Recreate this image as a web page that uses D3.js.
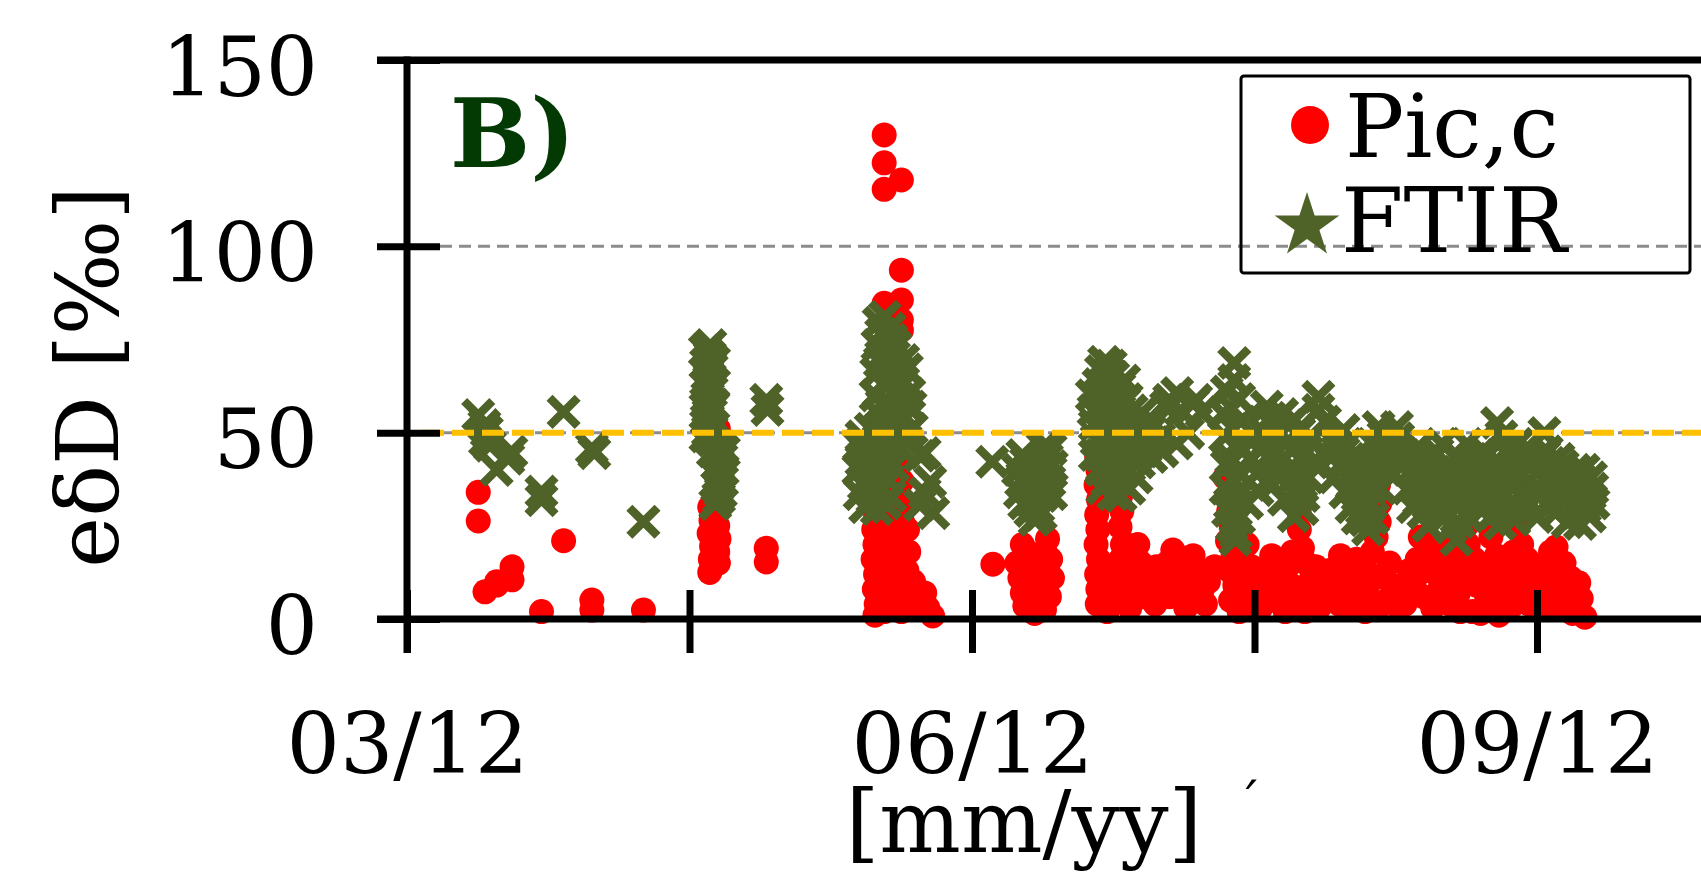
<!DOCTYPE html>
<html>
<head>
<meta charset="utf-8">
<script src="https://cdn.jsdelivr.net/npm/d3@7"></script>
<style>
body{margin:0;background:#fff;overflow:hidden;}
</style>
</head>
<body>
<div id="chart-area"></div>
<script>
// DATA : days after 01/03/2012, value in permil

let tickDays=[0,46,92,138,184];
let labelMonths=[3,6,9];
let yTicks=[0,50,100,150];
let refLines=[50,100];
let threshold=50;

let picPoints=[
	// march
	[11.6,34],[11.6,26.3],[12.7,7.3],[14.6,9.1],[14.6,10],[17.1,14],[17.1,10.5],[21.9,2],[25.5,21],[30.1,5.1],[30.1,2.4],[38.5,2.4],
	// april
	[49.3,30],[49.5,26.5],[49.2,23],[49.6,19.5],[49.4,16],[49.3,12.5],[50.6,25],[50.8,21.5],[50.6,18],[50.7,15],[49.7,14],[48.9,51.5],[50,53],[50.7,51],
	[58.5,19],[58.5,15.3],
	// may
	[76,40],[76.2,36],[75.9,32],[76.3,28],[76,24],[76.2,20],[75.9,16],[76.3,12],[76.1,8],[76.4,4],[76.2,1],[76.5,44],[77.3,38],[77.5,33],[77.2,27],[77.7,22],[77.4,17],[77.8,11],[77.5,6],[77.7,2],
	[78.9,35],[79.2,29],[78.8,24],[79.3,19],[79,14],[79.4,9],[79.1,4],[79.8,12],[80.4,42],[80.6,37],[80.3,31],[80.7,26],[80.4,21],[80.6,16],[80.3,11],[80.8,6],[80.5,2],
	[81.5,24],[81.7,18],[81.4,13],[81.8,8],[82.3,3.5],[82.5,10],
	[77.7,129.9],[77.7,122.4],[80.5,117.8],[77.7,115.3],[80.5,93.6],[77.7,84.7],[80.5,85.6],[80.5,80.2],[80.5,77.5],
	[84.3,7],[84.8,3],[85.6,0.8],
	// june
	[95.4,14.7],[99.3,15],[99.8,11],[100.2,7],[100.6,3.5],[101.3,9],[101.8,13],[102.5,6],[103,10],[103.5,14],[103.9,18],[104.3,21.5],[104.8,16],[105.1,11],[104.6,6],[103.8,2.5],[102.2,1.5],[101,18],[100.2,20],
	[112.3,43.7],[112.5,40],[112.2,36],[112.6,32],[112.3,28],[112.5,24],[112.2,20],[112.6,16],[112.3,12],[112.5,8],[112.4,4],[113.5,10],[114,2],[114.3,6],[114.8,14],[115,40],[115.2,36.5],[115.5,9],
	[116.2,33],[116.4,29],[116.1,24.7],[116.5,20],[116.2,16],[116.6,12],[116.3,7],[117.2,19.9],[117.7,3],[118.3,11],[118.6,17],
	[119,20],[119.5,15],[120,6],[120.5,11],[121.2,8.5],[121.8,4],[122,14],[123,10],[123.8,15],[124.2,6],[124.7,18.5],[125.5,13],[126,16.5],[126.5,9],[126.8,3],[127.5,6],[128,17],[128.5,12.3],[129.5,8],[130,4],[130.5,10],[131.5,14],
	// july
	[133.2,38],[133.5,33],[133.8,29],[134.2,25],[133.6,21],[134.5,17],[133.9,13],[134.8,9],[134.1,5],[135.5,2],[136,7],[136.5,11],[135.6,15],[136.8,20],[136.9,3],[137.5,14],[138.2,8],[139,3],
	[139.5,13],[140.2,9],[140.8,17],[141,5],[141.8,11],[142.2,15],[142.6,7],[143,2],[143.4,14],[144,9],[144.2,18],[144.8,5],[145.3,28.4],[145.3,24],[145.8,19],[146.2,2],[146.4,15],[147,10],[147.8,6],[148,14],[148.5,3],[149,12],
	[150.2,13],[151,8],[151.8,4],[152,17],[152.5,12],[153.2,7],[153.8,11],[154,3],[154.6,16],[155,9],[155.8,14],[156,2],[156.5,6],[157.2,18],[157.6,11],[157.8,22],[158,2.5],[158.3,26],[158.4,31],[158.2,36],[158.5,40.8],
	[159,12],[159.5,5],[160,15],[160.5,9],[161,7],[161.5,3],[162.5,4],[163.2,13],
	// august
	[164,10],[164.5,16],[165,22],[165.5,6],[166,18],[166.2,13],[167,3],[167.5,19],[167.8,6],[168.3,9],[168.8,17],[169,14],[169.8,4],[170,19],[170.5,11],[171.2,7],[171.5,2],[172,17],[172.5,25],[172.8,20],[173,12],[173.5,2],[173.8,16],
	[174.2,9],[174.8,1.5],[175,14],[175.8,5],[176,8],[176.5,22],[177,11],[177.4,17],[177.8,1],[178.2,12],[178.5,7],[179.2,16],[179.5,9],[179.9,3.5],[180.2,18],[180.6,12],[181,5],[181.3,26],[181.5,20],[182,8],[182.4,16],[182.7,4],[183.3,14],[183.8,9],
	[184,6],[184.6,14],[185,10],[185.4,6],[185.8,2.5],[186.2,18],[186.5,13],[187.1,19.3],[187.6,11],[188,7],[188.4,15],[188.8,3],[189,6.5],[189.5,11],[189.8,1.5],[190.2,4],[190.8,9.7],[191.2,5.5],[191.8,0.5]
];

let ftirPoints=[
	// march
	[11.6,54.7],[12.6,52],[13.0,50.3],[12.7,48.0],[13.5,46.5],[17.0,44.9],[16.5,43],[14.6,40.0],[21.9,34.2],[21.9,31.9],[25.5,55.6],[30.1,45.8],[30.5,44.5],[38.5,26.1],
	// april
	[49.4,73.5],[48.5,72],[49.3,70.5],[48.7,68.5],[49.6,67],[48.9,65.5],[49.2,64],[48.6,62.5],[49.5,61],[49,59.5],[48.7,58],[49.6,56.5],[49.1,55],[48.8,53.5],[49.5,52],[49,50.5],[48.6,49],[49.7,48],
	[50.8,46],[50.3,44.5],[51.2,43],[50.6,41.5],[51.4,40],[50.7,38.5],[51.3,37],[50.5,35.5],[51.1,34],[50.8,32.5],[49.9,57.5],[49.9,63],[50,69],[49.8,45],[51.6,45],[50.2,30.8],
	[58.5,58.8],[58.7,56.1],
	// may
	[77.8,81.1],[76.8,79.5],[78.6,78],[77.2,76.5],[78.9,75],[76.6,73.5],[78.1,72],[79.3,70.5],[77,69],[78.5,67.5],[80.8,69.5],[81.4,67],[76.4,66],[79,64.5],[77.5,63],[80.2,62],[81.8,60.5],[76.3,60],
	[78.3,58.5],[82,57],[79.7,56],[76.8,55],[81.2,54],[78.9,52.5],[77.1,51.5],[82.2,51],[80,50],[74,49],[76.8,48],[73.6,46.5],[78,45.5],[75.2,44],[74,42.5],[77.5,41.5],[73.5,40],[76.2,39],
	[78.3,37.5],[74.4,36],[77.2,35],[73.7,33.5],[75.8,32.5],[77.9,31],[74.6,30],[76.5,29.5],[80.3,46],[84.3,44.5],[85.2,36.8],[83.5,30.6],[85.7,28.4],[84.3,33.8],[83.5,43.8],
	[79.6,73],[80.2,65],[81,58],[80.6,54],[79.4,60],[75.5,51],[74.5,45],[75,38],[76,34.5],[78.7,33],[79.2,41],[78,48.5],[77.3,57.5],
	// june
	[95.3,42.2],[99.5,40],[100,37],[99.8,34],[100.5,31],[101.5,29],[102.2,26.6],[102.8,30],[103.3,33],[103,36],[103.8,40],[104.2,43],[103.5,46],[104.8,45.5],[105,41],[104.6,37],[104.9,33.5],[101,38.5],[102,35],[100.8,42],[101.8,31.5],
	[100.2,44],[101.5,35],[102.5,39],[103.2,28],
	[111.5,60],[111.8,56],[112,52],[112.3,48],[112.6,63],[113,66.5],[113.5,69],[114.2,66],[114,61],[113.7,57],[114.3,53],[113.5,49],[114.8,45],[115.5,41],[116,37.5],[116.7,40],[117.3,44],[116.5,48],
	[117.8,49],[118.5,46],[119.2,42],[118.8,38],[117.6,35],[116.2,33],[118.4,52],[119.5,55],[115.2,58],[115.8,54],[116,62],[112.8,44],[120.3,46],[121,50.5],[120.5,53],[121.6,47.5],
	[112,44],[113,40],[114,37],[113.2,35],[115,33.5],[117,52],[118,56],[117.2,59],[116.8,64],[115,65],[114.6,68],[119,49],[119.8,45],[121.2,43.5],
	[120.2,52],[121.6,52.6],[123.6,56.9],[124.1,58.8],[124.5,57.4],[125.4,60.6],[126,56],[127.2,49.9],[125.3,47.1],[128,57.8],[128.5,58.8],[129.4,55.5],[123,45],[122.5,48.5],
	// july
	[134.7,68.7],[134.7,64.1],[133.5,61],[135.5,59],[134,57],[133,55],[135.8,53],[134.5,51],[133.2,49],[135.2,47],[136,45],[134.2,43],[133.5,41],[135.6,39],[134.8,37],[133.3,35],[135.3,33],[134,31],
	[133.7,29],[135.5,27],[134.3,25],[135,23],[134.9,21.2],[137.5,43],[138.4,39],[138.5,34.6],[139,45.3],[136.8,31],
	[140,57],[140.6,54],[141.5,51],[140.2,48],[141,45],[142,42],[141.6,38.5],[142.5,55],[143.5,52],[144.5,53.5],[145.3,50],[144.6,46],[145.5,43],[144.8,40],[145.6,36.5],[145,33],[145.8,29.5],[144.4,27.6],
	[146.5,45],[147.2,48],[148.4,59.6],[148.4,56.1],[143,47],[146.8,38],
	[139.5,50],[141,36],[142.8,32],[143.8,37],[146,33],[147.5,42],[149.5,53],[150,44],[151,38],[152.8,34],[153.8,30],[154.8,27],[155.8,40],[159.5,44],[160.5,38.5],[158.6,35],[161.8,45],
	[150.5,48],[151.5,45],[152.5,50.7],[153,47],[153.5,43],[154.2,40],[154,36.5],[155,33],[155.5,29.5],[156,26.5],[156.5,24],[157.3,27],[157,31],[156.8,35],[157.5,39],[157.8,43],[157.2,47],[158.2,51.5],
	[159,49],[160,46],[161.2,51.5],[160.6,43],[161.4,48.5],[159.4,40],[152,41.5],
	// august
	[164.6,46],[165,42.5],[164.2,39],[165.2,35.5],[164.8,32],[165.5,28.5],[166.3,25],[167,43],[167.5,39.5],[168.5,47],[168,36],[168.8,32],[169.4,28],[170,24.5],[170.9,21.2],[171.3,26],[171,30.5],
	[171.8,35],[172.4,39],[172.6,47],[173.4,43],[174,37],[173.7,31.5],[172.8,27.5],[166.6,31],
	[162.5,44],[163.5,40],[163,35],[163.8,30],[166,37],[167.8,44.5],[169,41],[170.2,35],[170.5,39],[171.5,43],[173,33],[174.5,44],[175,29],[175.2,40],[177,37],[178,25.5],[180,43],[180.8,47],[182.5,37],[183.2,43],
	[176,44],[176.4,40],[175.8,36],[176.8,32],[177.2,28.5],[177.5,52.6],[178.2,49],[178.8,45],[178.4,41],[179.3,37.5],[179,33.5],[179.6,29.5],[180.3,26.6],[181,30],[181.5,34],[181.2,38],[182,42],
	[182.4,46],[183,31],[183.6,35],[184,27.4],[184.5,40],[185.2,49.9],[185.6,45],[186.1,41.9],
	[184.5,34],[185.5,31],[186.5,35],[187,28.5],[187.8,32],[188.5,36.5],[189,26],[189.8,30],[190.2,40],[190.5,34],[191.2,37],[191.6,40],[192.2,32],[192.6,27.5],[193,35],[191,25.5],
	[186.8,38],[187.5,43],[188.2,41],[189.2,34],[190,37],[191.8,30],[192.8,38],[193.2,31]
];

let font='"DejaVu Serif", serif';
let picColor='#ff0000';
let ftirColor='#4f6228';

let margin={top:60,left:407};
let width=1130;
let height=559;
let plotRight=1701-margin.left;

let base=Date.UTC(2012,2,1);
function toDate(day){
	return new Date(base+day*864e5);
}

let svg=d3.select("#chart-area").append('svg')
	.attr('width',1701)
	.attr('height',873);

let g=svg.append('g')
	.attr("transform", "translate(" + margin.left + ", " + margin.top + ")");

//---------SCALES--------------
let x=d3.scaleUtc()
	.domain([toDate(0),toDate(184)])
	.range([0,width]);

let y=d3.scaleLinear()
	.domain([0,150])
	.range([height,0]);

//------REFERENCE LINES-------
g.selectAll('.ref-line').data(refLines).enter().append('line')
	.attr('class','ref-line')
	.attr('x1',33).attr('x2',plotRight)
	.attr('y1',d=>y(d)).attr('y2',d=>y(d))
	.attr('stroke','#8c8c8c')
	.attr('stroke-width',3)
	.attr('stroke-dasharray','12,7');

//--------POINTS---------------
g.selectAll('circle.pic').data(picPoints).enter().append('circle')
	.attr('class','pic')
	.attr('cx',d=>x(toDate(d[0])))
	.attr('cy',d=>y(d[1]))
	.attr('r',12.5)
	.attr('fill',picColor);

let cross=d3.symbol().type(d3.symbolTimes).size(520);
g.selectAll('path.ftir').data(ftirPoints).enter().append('path')
	.attr('class','ftir')
	.attr('d',cross)
	.attr('transform',d=>"translate(" + x(toDate(d[0])) + ", " + y(d[1]) + ")")
	.attr('fill','none')
	.attr('stroke',ftirColor)
	.attr('stroke-width',8.5);

g.append('line')
	.attr('x1',15).attr('x2',plotRight)
	.attr('y1',y(threshold)).attr('y2',y(threshold))
	.attr('stroke','#ffc000')
	.attr('stroke-width',6)
	.attr('stroke-dasharray','22,8');

//-------AXES------------------
let yAxis=d3.axisLeft(y)
	.tickValues(yTicks)
	.tickSize(0)
	.tickPadding(89);

let yAxisGroup=g.append('g')
	.attr('class','y-axis')
	.call(yAxis)
	.attr('font-family',font)
	.attr('font-size',82);
yAxisGroup.select('.domain').remove();
yAxisGroup.selectAll('.tick line')
	.attr('x1',-30).attr('x2',33)
	.attr('stroke','#000').attr('stroke-width',7);
yAxisGroup.selectAll('.tick text')
	.attr('fill','#000')
	.attr('dy','0.43em');

let xAxis=d3.axisBottom(x)
	.tickValues(tickDays.map(toDate))
	.tickSize(0)
	.tickFormat(function(d){
		if(d.getUTCDate()===1 && labelMonths.includes(d.getUTCMonth()+1)){
			return d3.utcFormat('%m/%y')(d);
		}
		return '';
	});

let xAxisGroup=g.append('g')
	.attr('class','x-axis')
	.attr("transform", "translate(" + 0 + ", " + height+ ")")
	.call(xAxis)
	.attr('font-family',font)
	.attr('font-size',84);
xAxisGroup.select('.domain').remove();
xAxisGroup.selectAll('.tick line')
	.attr('y1',-29).attr('y2',34)
	.attr('stroke','#000').attr('stroke-width',7);
xAxisGroup.selectAll('.tick text')
	.attr('fill','#000')
	.attr('y',154)
	.attr('dy',0);

// frame
g.append('line')
	.attr('x1',-30).attr('x2',plotRight)
	.attr('y1',height).attr('y2',height)
	.attr('stroke','#000').attr('stroke-width',7);
g.append('line')
	.attr('x1',-30).attr('x2',plotRight)
	.attr('y1',0).attr('y2',0)
	.attr('stroke','#000').attr('stroke-width',7);
g.append('line')
	.attr('x1',0).attr('x2',0)
	.attr('y1',-3.5).attr('y2',height+34)
	.attr('stroke','#000').attr('stroke-width',7);

//------LABELS----------------
svg.append('text')
	.attr('transform','translate(118,377) rotate(-90)')
	.attr('text-anchor','middle')
	.attr('font-family',font)
	.attr('font-size',86)
	.text('eδD [‰]');

svg.append('text')
	.attr('x',1024)
	.attr('y',852)
	.attr('text-anchor','middle')
	.attr('font-family',font)
	.attr('font-size',86)
	.text('[mm/yy]');

svg.append('text')
	.attr('x',1236)
	.attr('y',820)
	.attr('font-family',font)
	.attr('font-size',50)
	.text('´');

svg.append('text')
	.attr('x',450)
	.attr('y',167)
	.attr('font-family',font)
	.attr('font-weight','bold')
	.attr('font-size',95)
	.attr('fill','#033a03')
	.text('B)');

//--------LEGEND--------------
let legend=svg.append('g');

legend.append('rect')
	.attr('x',1241).attr('y',76)
	.attr('width',449).attr('height',197)
	.attr('rx',3)
	.attr('fill','none')
	.attr('stroke','#000')
	.attr('stroke-width',3);

legend.append('circle')
	.attr('cx',1310).attr('cy',125)
	.attr('r',19)
	.attr('fill',picColor);

legend.append('path')
	.attr('d',d3.symbol().type(d3.symbolStar).size(1300))
	.attr('transform','translate(1307,226)')
	.attr('fill',ftirColor);

legend.append('text')
	.attr('x',1345).attr('y',157)
	.attr('font-family',font)
	.attr('font-size',88)
	.text('Pic,c');

legend.append('text')
	.attr('x',1341).attr('y',252)
	.attr('font-family',font)
	.attr('font-size',90)
	.text('FTIR');
</script>
</body>
</html>
